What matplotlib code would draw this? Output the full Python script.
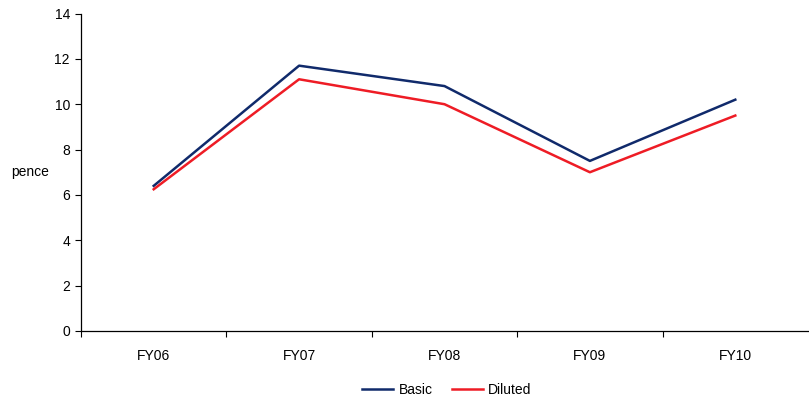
import numpy as np
import matplotlib
matplotlib.use("Agg")
import matplotlib.pyplot as plt

years = ["FY06", "FY07", "FY08", "FY09", "FY10"]
basic = [6.4, 11.7, 10.8, 7.5, 10.2]
diluted = [6.25, 11.1, 10.0, 7.0, 9.5]

plt.rcParams["font.family"] = ["Liberation Sans", "DejaVu Sans"]

fig = plt.figure(figsize=(8.09, 4.01), dpi=100)
ax = fig.add_axes([81 / 809, 70 / 401, 727 / 809, 317.5 / 401])

x = np.arange(len(years))
ax.plot(x, basic, color="#102a6b", lw=1.8, label="Basic")
ax.plot(x, diluted, color="#ee1c25", lw=1.8, label="Diluted")

ax.set_xlim(-0.5, len(years) - 0.5)
ax.set_ylim(0, 14)
ax.set_yticks(range(0, 15, 2))
ax.set_xticks(x)
ax.set_xticklabels(years)
ax.set_xticks(np.arange(-0.5, len(years) - 0.5, 1), minor=True)
ax.tick_params(axis="x", which="major", length=0, pad=13, labelsize=10)
ax.tick_params(axis="x", which="minor", length=4, width=0.8)
ax.tick_params(axis="y", length=4, width=0.8, labelsize=10, pad=4)

for s in ["top", "right"]:
    ax.spines[s].set_visible(False)
for s in ["left", "bottom"]:
    ax.spines[s].set_linewidth(0.9)

fig.text(11 / 809, 1 - 172 / 401, "pence", fontsize=10, va="center", ha="left")

fig.legend(loc="center", bbox_to_anchor=(447 / 809, 1 - 390 / 401), ncol=2,
           frameon=False, fontsize=10, handlelength=2.2, columnspacing=1.4,
           handletextpad=0.4)

fig.savefig("out.png", dpi=100)
